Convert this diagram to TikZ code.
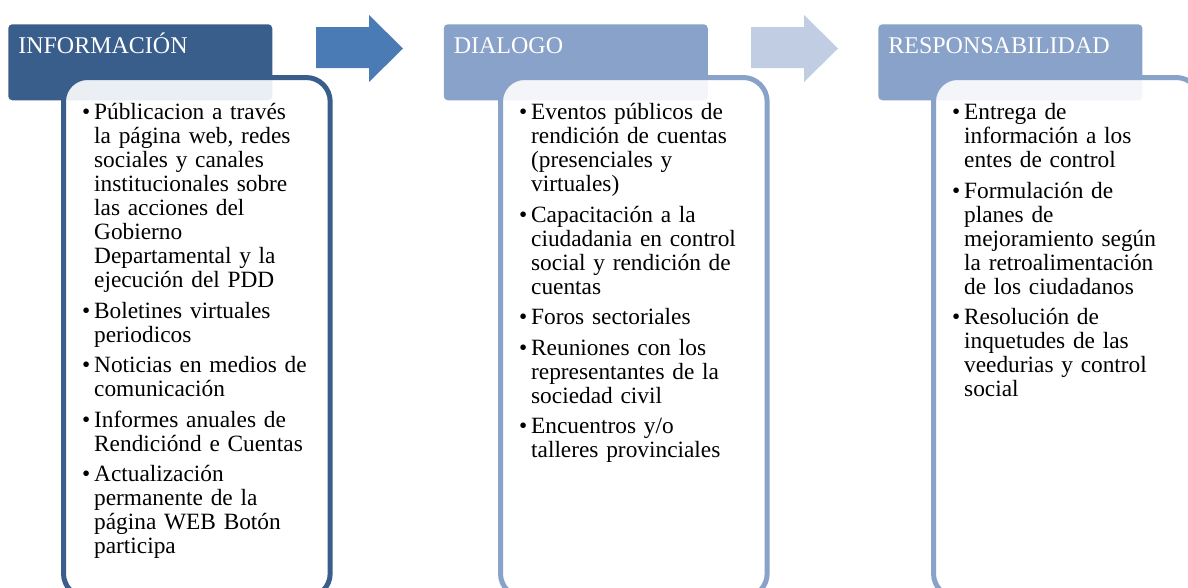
\documentclass[tikz,border=0pt]{standalone}
\usepackage{fontspec}
\setmainfont{Liberation Serif}
\usepackage{tikz}
\usetikzlibrary{positioning}
\definecolor{azulOscuro}{RGB}{58,94,140}
\definecolor{azulFlecha}{RGB}{74,123,181}
\definecolor{azulMedio}{RGB}{137,162,201}
\definecolor{azulPalido}{RGB}{192,205,227}
\newcommand{\punto}[1]{\setlength{\parskip}{4.9pt}\rightskip=-40pt
  \hangindent=9pt\hangafter=1\noindent\makebox[9pt][l]{\textbullet}#1\par}
\tikzset{
  rc/head/.style={rectangle, rounded corners=3pt, anchor=north west,
    text width=183pt, align=left, inner xsep=7.5pt, inner ysep=0pt,
    text height=21.75pt, text depth=35.25pt,
    font=\fontsize{18pt}{18pt}\selectfont\color{white}},
  rc/box/.style={rectangle, rounded corners=18pt, anchor=north west,
    fill=white, fill opacity=0.9, text opacity=1, line width=3.75pt,
    text width=172pt, inner xsep=14pt, inner ysep=0pt,
    text height=31.5pt, text depth=358.5pt,
    font=\fontsize{17.5pt}{18pt}\selectfont}
}
\begin{document}
\begin{tikzpicture}[x=0.75pt, y=-0.75pt]
  \useasboundingbox (0,0) rectangle (1188,587);
  \clip (0,0) rectangle (1188,587);
  % cabeceras
  \node[rc/head, fill=azulOscuro] (info) at (8,24) {INFORMACIÓN};
  \node[rc/head, fill=azulMedio, right=128.25pt of info] (dialogo) {DIALOGO};
  \node[rc/head, fill=azulMedio, right=127.5pt of dialogo] (resp) {RESPONSABILIDAD};
  % cajas de contenido
  \node[rc/box, draw=azulOscuro] (infoLista) at (61,75) {%
    \punto{Públicacion a través\newline la página web, redes\newline
      sociales y canales\newline institucionales sobre\newline
      las acciones del\newline Gobierno\newline
      Departamental y la\newline ejecución del PDD}%
    \punto{Boletines virtuales\newline periodicos}%
    \punto{Noticias en medios de\newline comunicación}%
    \punto{Informes anuales de\newline Rendiciónd e Cuentas}%
    \punto{Actualización\newline permanente de la\newline
      página WEB Botón\newline participa}};
  \node[rc/box, draw=azulMedio] (dialogoLista) at (498,75) {%
    \punto{Eventos públicos de\newline rendición de cuentas\newline
      (presenciales y\newline virtuales)}%
    \punto{Capacitación a la\newline ciudadania en control\newline
      social y rendición de\newline cuentas}%
    \punto{Foros sectoriales}%
    \punto{Reuniones con los\newline representantes de la\newline
      sociedad civil}%
    \punto{Encuentros y/o\newline talleres provinciales}};
  \node[rc/box, draw=azulMedio] (respLista) at (931,75) {%
    \punto{Entrega de\newline información a los\newline entes de control}%
    \punto{Formulación de\newline planes de\newline mejoramiento según\newline
      la retroalimentación\newline de los ciudadanos}%
    \punto{Resolución de\newline inquetudes de las\newline
      veedurias y control\newline social}};
  % flechas
  \fill[azulFlecha] (316,27) -- (369,27) -- (369,15) -- (403,48.5)
    -- (369,82) -- (369,68) -- (316,68) -- cycle;
  \fill[azulPalido] (751,27) -- (804,27) -- (804,15) -- (838,48.5)
    -- (804,82) -- (804,68) -- (751,68) -- cycle;
\end{tikzpicture}
\end{document}
